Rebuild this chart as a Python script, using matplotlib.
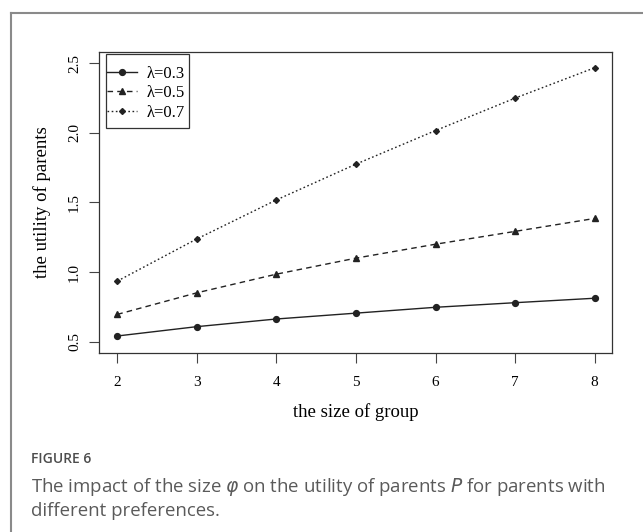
import matplotlib
matplotlib.use('Agg')
import matplotlib.pyplot as plt
from matplotlib.lines import Line2D
from matplotlib.patches import Rectangle

# values
group_size = [2, 3, 4, 5, 6, 7, 8]
util_03 = [0.541, 0.608, 0.663, 0.705, 0.747, 0.780, 0.812]
util_05 = [0.696, 0.851, 0.985, 1.100, 1.200, 1.292, 1.385]
util_07 = [0.935, 1.238, 1.518, 1.775, 2.016, 2.249, 2.467]
labels = ['\u03bb=0.3', '\u03bb=0.5', '\u03bb=0.7']
yticks = [0.5, 1.0, 1.5, 2.0, 2.5]

plt.rcParams['mathtext.fontset'] = 'dejavusans'
serif = 'Liberation Serif'

fig = plt.figure(figsize=(6.43, 5.32), dpi=100)
ax = fig.add_axes([0.154, 0.336, 0.798, 0.567])

col = '#222222'
ax.plot(group_size, util_03, color=col, lw=1.0, marker='o', ms=4.2, label=labels[0])
ax.plot(group_size, util_05, color=col, lw=1.0, marker='^', ms=4.8,
        dashes=(4, 3), label=labels[1])
ax.plot(group_size, util_07, color=col, lw=1.0, marker='D', ms=3.0,
        dashes=(1.2, 1.8), label=labels[2])

ax.set_xlim(1.77, 8.22)
ax.set_ylim(0.417, 2.583)
ax.set_xticks(group_size)
ax.set_yticks(yticks)
ax.set_yticklabels([f'{v:.1f}' for v in yticks], rotation=90, va='center')
ax.tick_params(length=7, width=0.8, color='#444444', labelsize=11, pad=6)
ax.tick_params(axis='x', pad=9.5)
for lab in ax.get_xticklabels() + ax.get_yticklabels():
    lab.set_fontfamily(serif)
for s in ax.spines.values():
    s.set_linewidth(0.9)
    s.set_color('#333333')

ax.set_xlabel('the size of group', fontfamily=serif, fontsize=13.5, labelpad=10)
ax.set_ylabel('the utility of parents', fontfamily=serif, fontsize=13.5, labelpad=12)

ax.legend(loc='center left', bbox_to_anchor=(0.016, 0.862), borderaxespad=0,
          frameon=False, prop={'family': serif, 'size': 12}, handlelength=1.8,
          handletextpad=0.55, labelspacing=0.2, borderpad=0)
ax.add_patch(Rectangle((0.0136, 0.747), 0.162, 0.245, transform=ax.transAxes,
                       fill=False, edgecolor='#333333', lw=0.9, zorder=5))

# outer panel frame (left and top edges visible)
fig.add_artist(Line2D([0.017, 0.017], [0.0, 0.975], transform=fig.transFigure,
                      color='#8a8a8a', lw=1.5))
fig.add_artist(Line2D([0.017, 1.0], [0.975, 0.975], transform=fig.transFigure,
                      color='#8a8a8a', lw=1.5))

fig.text(0.048, 1 - 459 / 532, 'FIGURE 6', fontfamily='Open Sans', fontsize=10,
         fontweight='semibold', color='#4d4d4d', va='center')
fig.text(0.048, 1 - 487 / 532,
         'The impact of the size $\\varphi$ on the utility of parents $P$ for parents with',
         fontfamily='Open Sans', fontsize=13.4, color='#5a5a5a', va='center')
fig.text(0.048, 1 - 511 / 532, 'different preferences.',
         fontfamily='Open Sans', fontsize=13.4, color='#5a5a5a', va='center')

fig.savefig('out.png', dpi=100)
